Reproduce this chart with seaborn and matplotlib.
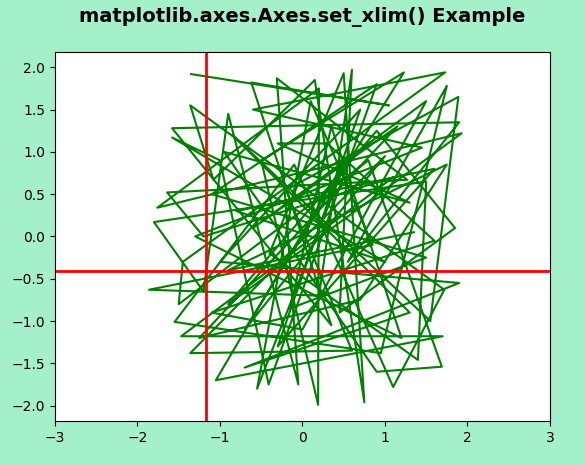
import numpy as np
import pandas as pd
import seaborn as sns
import matplotlib
matplotlib.use('Agg')
import matplotlib.pyplot as plt

# path vertices (approximate)
xs = [-1.35, 1.05, -0.62, 0.35, -1.58, 1.9, 0.55, 1.75, 0.95, -1.55,
      -0.1, 1.1, 1.72, -1.36, -1.08, 0.15, 0.75, 0.5, -0.4, 1.4,
      1.5, -1.8, -1.2, -0.9, -0.05, -0.31, 1.27, -1.64, -1.2, 1.1,
      -1.47, 1.7, -1.05, 0.55, -0.55, 0.1, 0.85, -1.86, 0.2, 0.6,
      0.45, 1.85, 0.9, -0.9, 1.93, -1.76, 0.2, 0.19, -0.5, 1.23,
      -0.7, 1.0, -1.36, 0.6, -0.2, 1.89, 1.55, -0.85, 1.3, -0.7,
      1.9, -1.0, 0.7, -0.3, 1.6, -0.8, 1.0, -1.58, -1.0, -0.41,
      0.9, -1.1, 1.5, -0.15, 0.35, 1.2, -1.3, 1.45, -0.6, 1.73,
      -1.45, -1.5, 0.8, 1.69, 0.9, -0.95, 1.3, -0.3, 0.3, 1.6,
      -1.1, 0.0, 1.5, -0.6, 1.15, -1.25, 0.7, 1.75, -0.9, 1.35]
ys = [1.92, 1.55, 1.82, -1.05, 1.28, 1.35, -0.3, 1.78, -1.38, -1.01,
      0.85, -1.78, -0.63, 1.55, 0.67, 1.85, -1.96, 1.93, -0.2, -1.46,
      0.65, 0.17, -0.65, 1.45, -1.75, 1.87, 0.67, 0.52, 0.0, 0.7,
      -1.18, -1.18, -1.7, 0.95, -1.8, 1.6, -0.1, -0.63, -0.7, 1.97,
      -0.9, 0.1, 1.25, -0.8, 1.22, 0.34, 1.75, -1.99, 0.9, 1.94,
      -1.1, 0.95, -1.38, -1.35, 0.55, 1.65, -1.0, 1.2, -0.9, -1.55,
      -0.55, -0.3, 1.5, -1.3, 0.8, 0.3, -0.3, 1.17, 0.9, -1.75,
      1.8, 0.5, -0.25, -0.85, 1.3, -1.2, 0.0, 1.05, 1.5, 1.94,
      -0.3, -0.8, 0.9, -1.54, -1.6, 1.0, 0.4, 1.1, 1.1, -0.05,
      -0.9, -1.1, 1.6, 0.1, 1.3, -1.2, -0.75, 0.85, -0.4, 0.05]

vline_x = -1.17
hline_y = -0.41

df = pd.DataFrame({'x': xs, 'y': ys})

fig = plt.figure(figsize=(5.85, 4.65), dpi=100, facecolor='#a3f0cb')
ax = fig.add_axes([0.094, 0.095, 0.846, 0.793])

sns.lineplot(data=df, x='x', y='y', sort=False, estimator=None,
             color='green', linewidth=1.5, ax=ax)
ax.axvline(vline_x, color='red', linewidth=2)
ax.axhline(hline_y, color='red', linewidth=2)

ax.set_xlim(-3, 3)
ax.set_ylim(-2.18, 2.18)
ax.set_xlabel('')
ax.set_ylabel('')
fig.suptitle('matplotlib.axes.Axes.set_xlim() Example', fontsize=14,
             fontweight='bold', x=0.517, y=0.985)

plt.savefig('out.png', dpi=100, facecolor=fig.get_facecolor())
